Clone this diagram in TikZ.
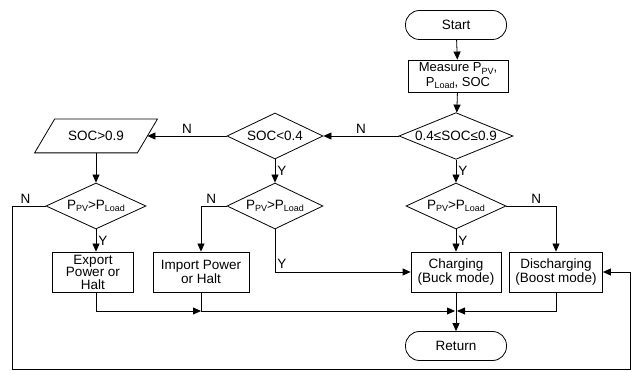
\documentclass[tikz,border=0pt]{standalone}
\usepackage{fontspec}
\setmainfont{Liberation Sans}
\usetikzlibrary{shapes.geometric,arrows.meta}
\newcommand{\fs}{\fontsize{13.5pt}{14.5pt}\selectfont}
\newcommand{\mysub}[1]{\raisebox{-2.5pt}{\fontsize{9pt}{9pt}\selectfont #1}}
\tikzset{
 base/.style={draw, line width=0.8pt, align=center, font=\fs, inner sep=1pt},
 term/.style={base, rectangle, rounded corners=14pt, minimum width=101pt, minimum height=29pt},
 proc/.style={base, rectangle, minimum height=40pt},
 dec/.style={base, diamond, inner sep=0pt, aspect=2.2, minimum height=46pt},
 arr/.style={line width=0.8pt, -{Triangle[length=8pt,width=7pt]}},
 ln/.style={line width=0.8pt},
 lab/.style={font=\fs, inner sep=2pt}
}
\begin{document}
\begin{tikzpicture}[x=1pt,y=-1pt]
\useasboundingbox (0,0) rectangle (632,371);
\node[term] (start) at (456,25) {Start};
\node[proc, minimum width=100pt, minimum height=32pt, inner sep=0pt, font=\fontsize{13pt}{14.5pt}\selectfont] (meas) at (458,76) {Measure P\mysub{PV},\\P\mysub{Load}, SOC};
\node[dec, minimum width=114pt] (d1) at (456,136) {0.4≤SOC≤0.9};
\node[dec, minimum width=100pt] (d2) at (456,206) {P\mysub{PV}>P\mysub{Load}};
\node[proc, minimum width=90pt] (chg) at (456,272) {Charging\\(Buck mode)};
\node[proc, minimum width=93pt] (dis) at (556,272) {Discharging\\(Boost mode)};
\node[term] (ret) at (456,346) {Return};
\node[dec, minimum width=96pt] (d3) at (275,136) {SOC<0.4};
\node[base, draw=none, minimum width=102pt, minimum height=33pt] (io) at (96,136) {SOC>0.9};
\draw[ln] ([xshift=10pt]io.north west) -- ([xshift=10pt]io.north east) -- ([xshift=-10pt]io.south east) -- ([xshift=-10pt]io.south west) -- cycle;
\node[dec, minimum width=100pt] (d4) at (96,206) {P\mysub{PV}>P\mysub{Load}};
\node[dec, minimum width=96pt] (d5) at (275,206) {P\mysub{PV}>P\mysub{Load}};
\node[proc, minimum width=81pt, font=\fontsize{13.5pt}{12.5pt}\selectfont] (exp) at (93,272) {Export\\Power or\\Halt};
\node[proc, minimum width=96pt] (imp) at (201,272) {Import Power\\or Halt};
\coordinate (m) at (456,311);
\coordinate (lb) at (12,369);
\coordinate (rb) at (630,369);

\draw[arr] (start) -- (meas);
\draw[arr] (meas) -- (d1);
\draw[arr] (d1) -- node[lab, right]{Y} (d2);
\draw[arr] (d2) -- node[lab, right]{Y} (chg);
\draw[arr] (d2.east) -| node[lab, above, pos=0.3]{N} (dis.north);
\draw[arr] (d1.west) -- node[lab, above]{N} (d3.east);
\draw[arr] (d3.west) -- node[lab, above]{N} (io.east);
\draw[arr] (io.south) -- (d4.north);
\draw[arr] (d3) -- node[lab, right]{Y} (d5);
\draw[arr] (d4.south) -- node[lab, right]{Y} (d4.south |- exp.north);
\draw[arr] (d5.west) -| node[lab, above, pos=0.3]{N} (imp.north);
\draw[arr] (d5.south) |- node[lab, right, pos=0.4]{Y} (chg.west);
\draw[arr] (chg.south) -- (ret.north);
\draw[arr] (d4.south |- exp.south) |- (imp.south |- m);
\draw[ln] (imp.south) -- (imp.south |- m);
\draw[arr, shorten >=1pt] (imp.south |- m) -- (m);
\draw[arr, shorten >=1pt] (dis.south) |- (m);
\draw[arr] (d4.west) -- node[lab, above, pos=0.6]{N} (d4.west -| lb) -- (lb) -- (rb) -- (rb |- dis) -- (dis.east);
\end{tikzpicture}
\end{document}
